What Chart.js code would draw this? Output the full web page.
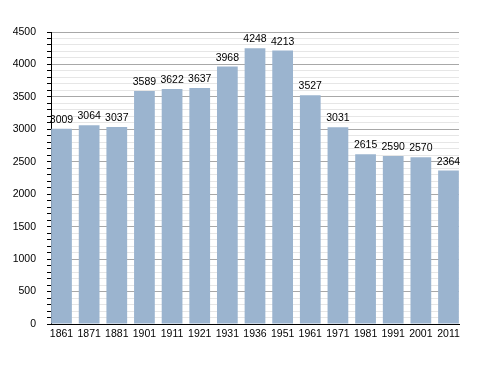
<!DOCTYPE html>
<html><head><meta charset="utf-8">
<script src="https://cdn.jsdelivr.net/npm/chart.js@4/dist/chart.umd.min.js"></script>
<style>html,body{margin:0;padding:0;background:#fff}#wrap{width:488px;height:373px}</style>
</head><body><div id="wrap"><canvas id="c" width="488" height="373"></canvas></div>
<script>
const years = ['1861','1871','1881','1901','1911','1921','1931','1936','1951','1961','1971','1981','1991','2001','2011'];
const population = [3009,3064,3037,3589,3622,3637,3968,4248,4213,3527,3031,2615,2590,2570,2364];
const yTickStep = 500;

const FONT = '"Liberation Sans", Arial, sans-serif';
const points = population.map((v, i) => ({ x: i, y: v }));

const labelPlugin = {
  id: 'barLabels',
  afterDatasetsDraw(chart) {
    const ctx = chart.ctx;
    const meta = chart.getDatasetMeta(0);
    ctx.save();
    ctx.font = '10.5px ' + FONT;
    ctx.fillStyle = '#000';
    ctx.textAlign = 'center';
    ctx.textBaseline = 'bottom';
    meta.data.forEach((bar, i) => {
      ctx.fillText(String(population[i]), bar.x, bar.y - 3.5);
    });
    ctx.restore();
  }
};

new Chart(document.getElementById('c'), {
  type: 'bar',
  data: {
    datasets: [{
      data: points,
      backgroundColor: '#9bb4cf',
      borderWidth: 0,
      barPercentage: 0.75,
      categoryPercentage: 1.0
    }]
  },
  options: {
    responsive: false,
    animation: false,
    events: [],
    layout: { padding: { top: 32, right: 29, bottom: 0, left: 2 } },
    plugins: { legend: { display: false }, tooltip: { enabled: false } },
    scales: {
      x: {
        type: 'linear',
        min: -0.38, max: years.length - 1 + 0.38,
        offset: false,
        grid: { display: false, drawTicks: false },
        border: { color: '#000', width: 1 },
        ticks: {
          stepSize: 1, includeBounds: false, autoSkip: false, maxRotation: 0,
          color: '#000', font: { size: 10.5, family: FONT }, padding: 4,
          callback: (v) => Number.isInteger(v) ? years[v] : ''
        },
        afterFit(s) { s.height = 49; }
      },
      y: {
        min: 0, max: 4500,
        grid: {
          color: (c) => (c.tick && c.tick.value % yTickStep === 0) ? '#a8a8a8' : '#e6e6e6',
          tickColor: '#000',
          tickLength: 4,
          drawTicks: true
        },
        border: { color: '#000', width: 1 },
        ticks: {
          stepSize: 100, autoSkip: false,
          color: '#000',
          font: { size: 10.5, family: FONT },
          padding: 11,
          callback: (v) => (v % yTickStep === 0) ? String(v) : ''
        },
        afterFit(s) { s.width = 49; }
      }
    }
  },
  plugins: [labelPlugin]
});
</script></body></html>
